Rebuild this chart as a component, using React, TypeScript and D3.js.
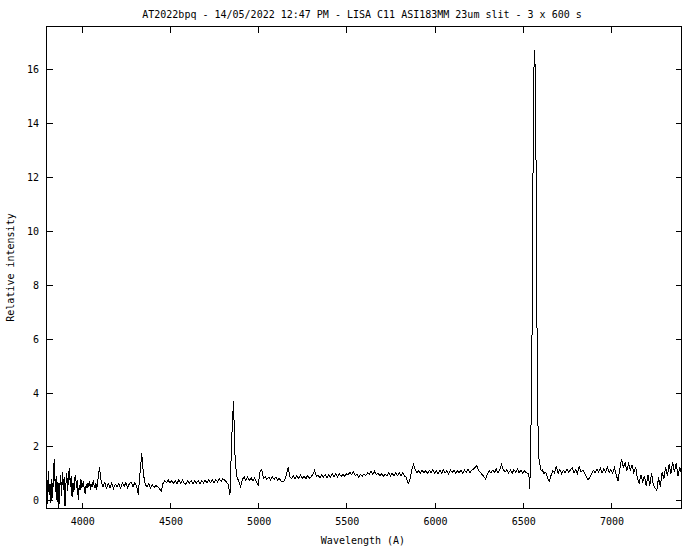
import React from "react";
import * as d3 from "d3";

// ---- data (relative intensity) ----
const titleText = "AT2022bpq - 14/05/2022 12:47 PM - LISA C11 ASI183MM 23um slit - 3 x 600 s";
const xLabel = "Wavelength (A)";
const yLabel = "Relative intensity";
const xTicks = [4000, 4500, 5000, 5500, 6000, 6500, 7000];
const yTicks = [0, 2, 4, 6, 8, 10, 12, 14, 16];
const xDomain = [3800, 7400];
const yDomain = [-0.3, 17.57];

// 3800 - 4100 A, every 5 A
const blueStart = 3800;
const blueStep = 5;
const blueValues = [
  0.9, -0.15, 1.1, 0.2, 0.6, -0.1, 0.8, 0.1, 1.2, 1.55,
  0.3, 0.9, -0.05, 0.7, -0.28, 0.5, 0.95, 0.15, 1.05, 0.4,
  0.85, -0.22, 0.6, 1.0, 0.35, 0.95, 1.2, 0.5, 0.9, 0.12,
  0.65, 0.3, 0.8, 0.95, 0.45, 0.75, 0.0, 0.55, 0.4, 0.8,
  0.45, 0.6, 0.7, 0.35, 0.25, 0.6, 0.45, 0.65, 0.5, 0.7,
  0.37, 0.6, 0.5, 0.75, 0.55, 0.45, 0.65, 0.4, 0.7, 0.9,
  1.22,
];

// 4110 - 6530 A, every 10 A
const midStart = 4110;
const midStep = 10;
const midValues = [
  0.72, 0.5, 0.66, 0.46, 0.62, 0.48, 0.64, 0.44, 0.6, 0.5,
  0.62, 0.46, 0.64, 0.52, 0.66, 0.48, 0.62, 0.68, 0.5, 0.64,
  0.56, 0.22, 1.0, 1.74, 0.95, 0.6, 0.5, 0.62, 0.46, 0.58,
  0.48, 0.56, 0.5, 0.44, 0.34, 0.62, 0.74, 0.66, 0.76, 0.64,
  0.74, 0.64, 0.72, 0.62, 0.76, 0.63, 0.75, 0.64, 0.6, 0.73,
  0.63, 0.74, 0.62, 0.72, 0.64, 0.74, 0.62, 0.73, 0.65, 0.75,
  0.64, 0.76, 0.66, 0.78, 0.66, 0.77, 0.68, 0.8, 0.7, 0.8,
  0.76, 0.68, 0.6, 0.2, 2.3, 3.7, 1.4, 0.87, 0.7, 0.5,
  0.76, 0.88, 0.74, 0.86, 0.74, 0.84, 0.72, 0.84, 0.68, 0.57,
  1.05, 1.15, 0.82, 0.88, 0.78, 0.86, 0.76, 0.88, 0.78, 0.86,
  0.76, 0.82, 0.7, 0.69, 0.75, 0.95, 1.22, 0.88, 0.8, 0.92,
  0.8, 0.92, 0.8, 0.94, 0.82, 0.9, 0.8, 0.92, 0.82, 0.88,
  0.95, 1.12, 0.88, 0.94, 0.84, 0.94, 0.86, 0.96, 0.84, 0.96,
  0.86, 0.98, 0.87, 0.99, 0.88, 1.0, 0.89, 0.96, 0.9, 0.98,
  0.94, 1.05, 0.95, 1.06, 0.92, 0.98, 0.86, 0.96, 0.9, 0.98,
  0.92, 1.02, 0.96, 1.07, 0.95, 1.08, 0.96, 1.0, 0.92, 0.99,
  0.9, 0.98, 0.91, 1.02, 0.9, 1.01, 0.9, 1.02, 0.92, 1.03,
  0.92, 1.02, 0.9, 0.85, 0.63, 0.75, 1.1, 1.34, 1.15, 1.02,
  1.1, 1.0, 1.12, 1.02, 1.1, 1.0, 1.12, 1.02, 1.14, 1.0,
  1.1, 0.98, 1.12, 1.0, 1.14, 1.02, 1.1, 0.98, 1.12, 1.04,
  1.12, 1.0, 1.1, 1.02, 1.14, 1.0, 1.12, 1.04, 1.15, 1.03,
  1.12, 1.15, 1.22, 1.3, 1.1, 1.05, 0.95, 0.88, 0.79, 0.98,
  1.1, 1.02, 1.12, 1.04, 1.16, 1.02, 1.15, 1.34, 1.14, 1.06,
  1.14, 1.02, 1.12, 1.0, 1.14, 1.04, 1.16, 1.02, 1.13, 1.0,
  1.1, 1.02, 1.0,
];

// H-alpha profile
const haWaves = [6535, 6540, 6546, 6551, 6556, 6561, 6567, 6573, 6578, 6583, 6589, 6595, 6600, 6605];
const haValues = [0.9, 0.42, 2.4, 4.6, 9.5, 15.45, 16.7, 15.45, 9.0, 4.5, 1.6, 1.45, 1.2, 1.1];

// 6610 - 7400 A, every 10 A
const redStart = 6610;
const redStep = 10;
const redValues = [
  1.14, 1.0, 1.05, 0.85, 0.69, 0.92, 1.1, 1.02, 1.28, 1.0,
  1.14, 1.0, 1.12, 1.02, 1.16, 1.04, 1.12, 1.22, 1.02, 1.14,
  1.0, 1.25, 1.06, 1.12, 1.02, 0.9, 0.75, 0.86, 0.98, 1.12,
  1.02, 1.16, 1.04, 1.2, 1.02, 1.18, 1.06, 1.22, 1.04, 1.14,
  1.0, 1.22, 0.95, 0.72, 1.15, 1.55, 1.22, 1.4, 1.1, 1.35,
  1.12, 1.3, 1.02, 1.25, 0.8, 0.65, 0.95, 0.7, 0.9, 0.55,
  0.95, 0.55, 1.0, 0.6, 0.45, 0.38, 0.85, 0.5, 1.05, 0.8,
  1.25, 0.9, 1.35, 1.0, 1.43, 1.05, 1.38, 0.9, 1.25, 1.0,
];

type Pt = [number, number];

function buildSpectrum(): Pt[] {
  const pts: Pt[] = [];
  blueValues.forEach((v, i) => pts.push([blueStart + i * blueStep, v]));
  midValues.forEach((v, i) => pts.push([midStart + i * midStep, v]));
  haValues.forEach((v, i) => pts.push([haWaves[i], v]));
  redValues.forEach((v, i) => pts.push([redStart + i * redStep, v]));
  return pts;
}

const W = 700;
const H = 550;
const L = 46.5;
const R = 681.5;
const T = 26.5;
const B = 508.5;
const TICK = 6;
const FONT = "'DejaVu Sans Mono', monospace";

export default function App() {
  const x = d3.scaleLinear().domain(xDomain).range([L, R]);
  const y = d3.scaleLinear().domain(yDomain).range([B, T]);
  const data = buildSpectrum();
  const line = d3
    .line<Pt>()
    .x((d) => x(d[0]))
    .y((d) => y(d[1]));

  return (
    <svg
      width={W}
      height={H}
      style={{ position: "absolute", left: 0, top: 0, background: "#fff" }}
      fontFamily={FONT}
      fontSize={10}
    >
      <rect x={0} y={0} width={W} height={H} fill="#fff" />
      <text x={362} y={18} textAnchor="middle" fill="#000">
        {titleText}
      </text>
      {/* ticks */}
      <g stroke="#000" strokeWidth={1} shapeRendering="crispEdges">
        {xTicks.map((t) => (
          <g key={"x" + t}>
            <line x1={Math.round(x(t)) + 0.5} x2={Math.round(x(t)) + 0.5} y1={B} y2={B - TICK} />
            <line x1={Math.round(x(t)) + 0.5} x2={Math.round(x(t)) + 0.5} y1={T} y2={T + TICK} />
          </g>
        ))}
        {yTicks.map((t) => (
          <g key={"y" + t}>
            <line y1={Math.round(y(t)) + 0.5} y2={Math.round(y(t)) + 0.5} x1={L} x2={L + TICK} />
            <line y1={Math.round(y(t)) + 0.5} y2={Math.round(y(t)) + 0.5} x1={R} x2={R - TICK} />
          </g>
        ))}
      </g>
      {xTicks.map((t) => (
        <text key={"xl" + t} x={x(t) + 1} y={525} textAnchor="middle" fill="#000">
          {t}
        </text>
      ))}
      {yTicks.map((t) => (
        <text key={"yl" + t} x={39} y={y(t) + 4} textAnchor="end" fill="#000">
          {t}
        </text>
      ))}
      <path
        d={line(data) || ""}
        fill="none"
        stroke="#000"
        strokeWidth={1}
        shapeRendering="crispEdges"
      />
      <rect
        x={L}
        y={T}
        width={R - L}
        height={B - T}
        fill="none"
        stroke="#000"
        strokeWidth={1}
        shapeRendering="crispEdges"
      />
      <text x={363} y={544} textAnchor="middle" fill="#000">
        {xLabel}
      </text>
      <text
        transform={`translate(14, ${(T + B) / 2}) rotate(-90)`}
        textAnchor="middle"
        fill="#000"
      >
        {yLabel}
      </text>
    </svg>
  );
}
